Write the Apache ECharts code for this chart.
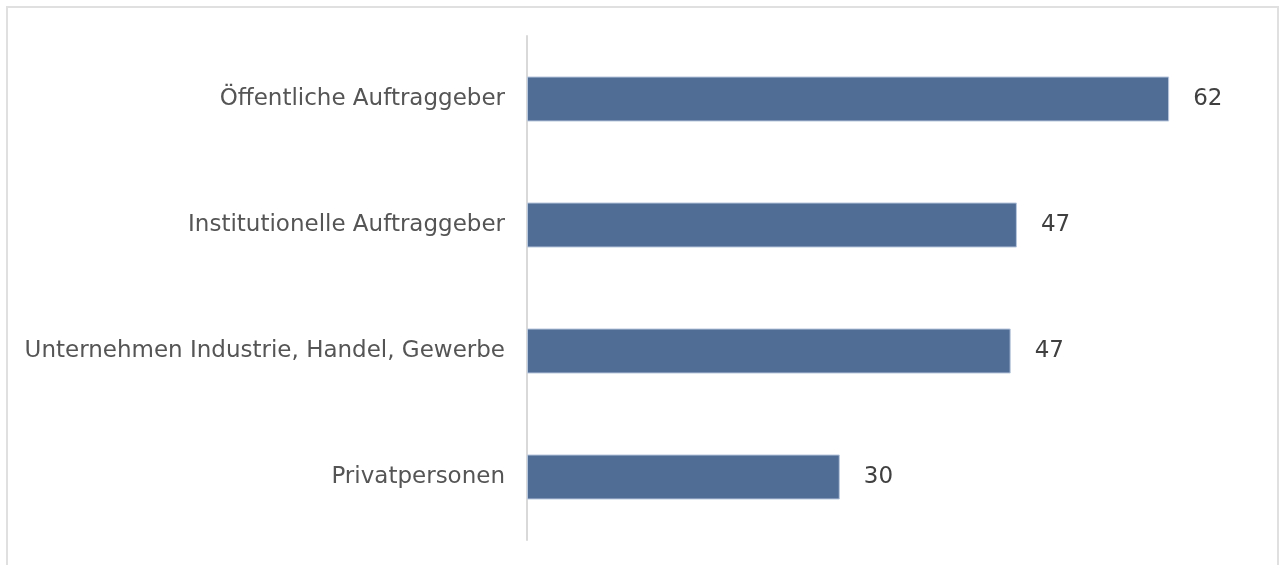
<!DOCTYPE html>
<html>
<head>
    <meta charset="UTF-8">
    <title>Auftraggeber</title>
    <script src="https://cdn.jsdelivr.net/npm/echarts@6/dist/echarts.min.js"></script>
    <style>
        body {
            margin: 0;
            background-color: #fff;
        }
        #frame {
            position: absolute;
            left: 6px;
            top: 6px;
            width: 1273px;
            height: 580px;
            border: 2px solid #e0e0e0;
            box-sizing: border-box;
        }
        #chart {
            position: absolute;
            left: 0;
            top: 0;
            width: 1285px;
            height: 565px;
        }
    </style>
</head>
<body>
    <div id="frame"></div>
    <div id="chart"></div>
    <script>
        // Daten (von unten nach oben, wie die Kategorieachse zeichnet)
        const categories = [
            'Privatpersonen',
            'Unternehmen Industrie, Handel, Gewerbe',
            'Institutionelle Auftraggeber',
            'Öffentliche Auftraggeber'
        ];
        const values = [30.2, 46.7, 47.3, 62];

        const myChart = echarts.init(document.getElementById('chart'));

        const option = {
            animation: false,
            grid: {
                left: 527,
                right: 33,
                top: 36,
                bottom: 25,
                containLabel: false
            },
            xAxis: {
                type: 'value',
                min: 0,
                max: 70,
                show: false
            },
            yAxis: {
                type: 'category',
                data: categories,
                axisLine: { show: true, lineStyle: { color: '#d9d9d9', width: 2 } },
                axisTick: { show: false },
                axisLabel: {
                    color: '#555',
                    fontSize: 23,
                    fontFamily: 'DejaVu Sans',
                    margin: 22
                }
            },
            series: [{
                type: 'bar',
                data: values,
                barWidth: 45,
                itemStyle: {
                    color: '#506d96',
                    borderColor: '#b8c7dc',
                    borderWidth: 1
                },
                label: {
                    show: true,
                    position: 'right',
                    distance: 24,
                    color: '#404040',
                    fontSize: 23,
                    fontFamily: 'DejaVu Sans',
                    formatter: p => Math.round(p.value)
                }
            }]
        };

        myChart.setOption(option);
        window.addEventListener('resize', () => myChart.resize());
    </script>
</body>
</html>
